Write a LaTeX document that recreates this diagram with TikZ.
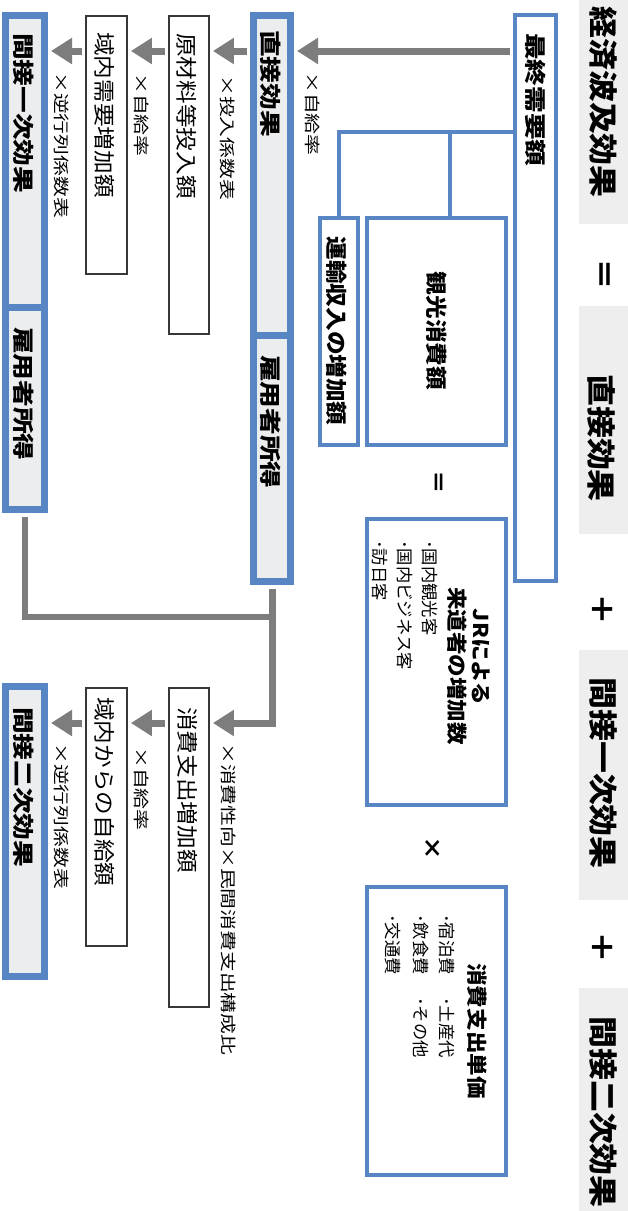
\documentclass[tikz,border=0pt]{standalone}
\usepackage{fontspec}
\usetikzlibrary{arrows.meta}
\newfontfamily\jpa[FakeStretch=1.24]{Noto Sans CJK JP}
\newfontfamily\jpb[FakeStretch=1.1]{Noto Sans CJK JP}
\newfontfamily\jpc[FakeStretch=1.3]{Noto Sans CJK JP}
\newfontfamily\jpd[FakeStretch=1.02]{Noto Sans CJK JP}
\definecolor{jrblue}{RGB}{88,134,196}
\definecolor{arrgray}{RGB}{125,125,125}
\definecolor{boxgray}{RGB}{236,237,239}
\definecolor{titlegray}{RGB}{238,238,238}
\definecolor{thinline}{RGB}{55,55,55}
\tikzset{
  bluebox/.style={rectangle, draw=jrblue, line width=4pt, fill=white, inner sep=0pt},
  thickbox/.style={rectangle, draw=jrblue, line width=7pt, fill=boxgray, inner sep=0pt},
  thinbox/.style={rectangle, draw=thinline, line width=1.8pt, fill=white, inner sep=0pt},
  titlebg/.style={rectangle, fill=titlegray, inner sep=0pt},
  garrow/.style={draw=arrgray, line width=7pt, -{Triangle[width=25pt,length=21pt]}, shorten >=3pt, shorten <=3.5pt},
  gline/.style={draw=arrgray, line width=6pt, shorten <=3.5pt},
  bline/.style={draw=jrblue, line width=4pt},
  txt/.style={inner sep=0pt, anchor=west},
  ctxt/.style={inner sep=0pt, anchor=center},
  ftitle/.style={font=\jpb\bfseries\fontsize{29}{32}\selectfont},
  fbig/.style={font=\jpa\bfseries\fontsize{21.5}{24}\selectfont},
  fmed/.style={font=\jpb\bfseries\fontsize{21.5}{24}\selectfont},
  freg/.style={font=\jpb\fontsize{21.5}{24}\selectfont},
  flab/.style={font=\jpc\fontsize{16}{18}\selectfont},
  flist/.style={font=\jpd\fontsize{17}{19}\selectfont},
  fjrt/.style={font=\jpb\bfseries\fontsize{20.5}{23}\selectfont},
}
\begin{document}
\begin{tikzpicture}[x=1pt,y=1pt]
\useasboundingbox (0,0) rectangle (628,-1211);
\fill[white] (0,0) rectangle (628,-1211);
\begin{scope}[rotate=-90, transform shape]
% ---- title row ----
\node[titlebg, minimum width=224pt, minimum height=50pt] (tb1) at (112,604) {};
\node[titlebg, minimum width=228pt, minimum height=50pt] (tb2) at (420,604) {};
\node[titlebg, minimum width=250pt, minimum height=50pt] (tb3) at (775,604) {};
\node[titlebg, minimum width=224pt, minimum height=50pt] (tb4) at (1100,604) {};
\node[ctxt, ftitle] (t1) at (102,603) {経済波及効果};
\node[ctxt, ftitle] (teq) at (274,602) {＝};
\node[ctxt, ftitle] (t2) at (438,602) {直接効果};
\node[ctxt, ftitle] (tp1) at (609,602) {＋};
\node[ctxt, ftitle] (t3) at (773,603) {間接一次効果};
\node[ctxt, ftitle] (tp2) at (947,602) {＋};
\node[ctxt, ftitle] (t4) at (1112,603) {間接二次効果};
% ---- blue boxes ----
\node[bluebox, minimum width=566pt, minimum height=41pt] (fd) at (298,535.5) {};
\node[bluebox, minimum width=227pt, minimum height=38pt] (un) at (331.5,339) {};
\node[bluebox, minimum width=227pt, minimum height=139pt] (kk) at (331.5,436.5) {};
\node[bluebox, minimum width=286pt, minimum height=139pt] (jr) at (662,436.5) {};
\node[bluebox, minimum width=288pt, minimum height=139pt] (sh) at (1031,436.5) {};
% ---- thick boxes ----
\node[thickbox, minimum width=319.5pt, minimum height=37pt] (ch) at (175.25,272) {};
\node[thickbox, minimum width=246.5pt, minimum height=37pt] (ko1) at (458.25,272) {};
\node[thickbox, minimum width=291.5pt, minimum height=39pt] (k1) at (161.25,25) {};
\node[thickbox, minimum width=202.5pt, minimum height=39pt] (ko2) at (408.25,25) {};
\node[thickbox, minimum width=290pt, minimum height=39pt] (k2) at (831.5,25) {};
% ---- thin boxes ----
\node[thinbox, minimum width=318pt, minimum height=40pt] (gz) at (175,189) {};
\node[thinbox, minimum width=258pt, minimum height=41pt] (ij) at (145,106.5) {};
\node[thinbox, minimum width=319pt, minimum height=40pt] (sz) at (847.5,189) {};
\node[thinbox, minimum width=258pt, minimum height=41pt] (ij2) at (817,106.5) {};
% ---- box texts ----
\node[txt, fbig] (fdT) at (33,536) {最終需要額};
\node[ctxt, fmed] (unT) at (331,337) {運輸収入の増加額};
\node[ctxt, fmed] (kkT) at (331,437) {観光消費額};
\node[ctxt, fjrt] (jrT1) at (657,481) {JRによる};
\node[ctxt, fjrt] (jrT2) at (666,457) {来道者の増加数};
\node[txt, flist] (jrL1) at (540,430) {･国内観光客};
\node[txt, flist] (jrL2) at (540,405) {･国内ビジネス客};
\node[txt, flist] (jrL3) at (540,380) {･訪日客};
\node[ctxt, fjrt] (shT) at (1031,477) {消費支出単価};
\node[txt, flist] (shL1) at (914,447) {･宿泊費};
\node[txt, flist] (shL2) at (997,447) {･土産代};
\node[txt, flist] (shL3) at (914,421) {･飲食費};
\node[txt, flist] (shL4) at (997,421) {･その他};
\node[txt, flist] (shL5) at (914,393) {･交通費};
\node[ctxt, fmed] (eq2) at (482,437) {＝};
\node[ctxt, fmed] (tm) at (848,432) {×};
\node[txt, fbig] (chT) at (30,271) {直接効果};
\node[txt, fbig] (ko1T) at (355,271) {雇用者所得};
\node[txt, fbig] (k1T) at (33,24) {間接一次効果};
\node[txt, fbig] (ko2T) at (327,24) {雇用者所得};
\node[txt, fbig] (k2T) at (707,24) {間接二次効果};
\node[txt, freg] (gzT) at (33,187) {原材料等投入額};
\node[txt, freg] (ijT) at (32,105) {域内需要増加額};
\node[txt, freg] (szT) at (707,188) {消費支出増加額};
\node[txt, freg] (ij2T) at (697,105) {域内からの自給額};
% ---- arrow labels ----
\node[txt, flab] (l1) at (72,313) {×自給率};
\node[txt, flab] (l2) at (75,228) {×投入係数表};
\node[txt, flab] (l3) at (73,142) {×自給率};
\node[txt, flab] (l4) at (72,62) {×逆行列係数表};
\node[txt, flab] (l5) at (743,229) {×消費性向×民間消費支出構成比};
\node[txt, flab] (l6) at (747,142) {×自給率};
\node[txt, flab] (l7) at (743,62) {×逆行列係数表};
% ---- connectors ----
\coordinate (r1) at (51,0);
\coordinate (r2) at (723,0);
\coordinate (r3) at (617,0);
\coordinate (r4) at (132,0);
\coordinate (kb) at (132,450);
\draw[garrow] (r1 |- fd.south) -- (r1 |- ch.north);
\draw[garrow] (r1 |- ch.south) -- (r1 |- gz.north);
\draw[garrow] (r1 |- gz.south) -- (r1 |- ij.north);
\draw[garrow] (r1 |- ij.south) -- (r1 |- k1.north);
\draw[gline] (ko2.east) -- (r3 |- ko2.east) -- (r3 |- ko1.east);
\draw[garrow] (ko1.east) -- (r2 |- ko1.east) -- (r2 |- sz.north);
\draw[garrow] (r2 |- sz.south) -- (r2 |- ij2.north);
\draw[garrow] (r2 |- ij2.south) -- (r2 |- k2.north);
\draw[bline] (r4 |- fd.south) |- (un.west);
\draw[bline] (kb) -- (kb -| kk.west);
\end{scope}
\end{tikzpicture}
\end{document}
